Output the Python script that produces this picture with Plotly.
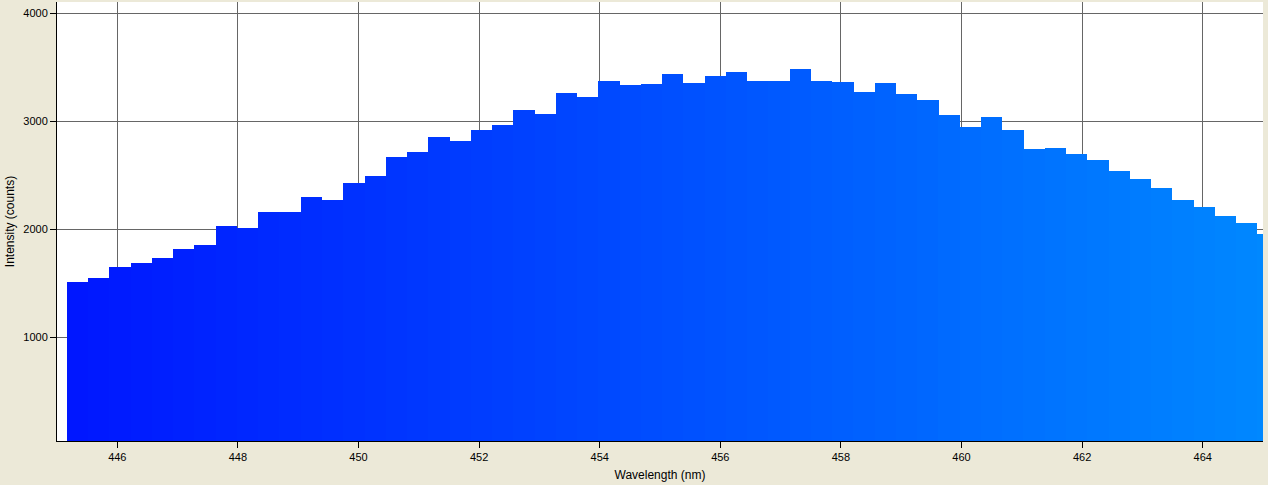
import plotly.graph_objects as go

# Bar centre wavelengths (nm)
wavelength = [
    445.342, 445.695, 446.047, 446.400, 446.752, 447.105, 447.457, 447.810,
    448.162, 448.515, 448.867, 449.220, 449.572, 449.925, 450.277, 450.630,
    450.982, 451.335, 451.687, 452.040, 452.392, 452.745, 453.097, 453.450,
    453.802, 454.155, 454.507, 454.860, 455.212, 455.565, 455.917, 456.270,
    456.622, 456.975, 457.327, 457.680, 458.032, 458.385, 458.737, 459.090,
    459.442, 459.795, 460.147, 460.500, 460.852, 461.205, 461.557, 461.910,
    462.262, 462.615, 462.967, 463.320, 463.672, 464.025, 464.377, 464.730,
    465.082,
]

# Intensity (counts)
intensity = [
    1512, 1549, 1651, 1688, 1734, 1817, 1854, 2031,
    2009, 2160, 2160, 2299, 2271, 2429, 2494, 2669,
    2716, 2855, 2818, 2920, 2966, 3105, 3068, 3262,
    3224, 3373, 3336, 3345, 3438, 3355, 3420, 3456,
    3373, 3373, 3484, 3373, 3364, 3271, 3355, 3253,
    3197, 3058, 2947, 3040, 2920, 2744, 2753, 2697,
    2642, 2540, 2466, 2383, 2271, 2207, 2123, 2058,
    1956,
]

x_ticks = [446, 448, 450, 452, 454, 456, 458, 460, 462, 464]
y_ticks = [1000, 2000, 3000, 4000]

fig = go.Figure(
    go.Bar(
        x=wavelength,
        y=intensity,
        width=0.3545,
        marker=dict(
            color=wavelength,
            colorscale=[[0, "rgb(0,22,255)"], [0.5, "rgb(0,78,255)"], [1, "rgb(0,136,255)"]],
            cmin=445.166,
            cmax=465.0,
            line=dict(width=0),
        ),
        hoverinfo="x+y",
    )
)

axis_font = dict(family="Liberation Sans, Arial, sans-serif", size=11, color="black")
title_font = dict(family="Liberation Sans, Arial, sans-serif", size=12, color="black")

fig.update_layout(
    width=1268,
    height=485,
    margin=dict(l=57, r=5, t=2, b=44),
    paper_bgcolor="#ECE9D8",
    plot_bgcolor="white",
    bargap=0,
    showlegend=False,
    xaxis=dict(
        range=[445, 465],
        tickvals=x_ticks,
        ticktext=[str(v) for v in x_ticks],
        ticks="outside",
        ticklen=6,
        tickcolor="black",
        showline=True,
        linecolor="black",
        linewidth=1,
        showgrid=True,
        gridcolor="#666666",
        gridwidth=1,
        zeroline=False,
        tickfont=axis_font,
        title=dict(text="Wavelength (nm)", font=title_font, standoff=8),
    ),
    yaxis=dict(
        range=[40, 4105],
        tickvals=y_ticks,
        ticktext=[str(v) for v in y_ticks],
        ticks="outside",
        ticklen=6,
        tickcolor="black",
        showline=True,
        linecolor="black",
        linewidth=1,
        showgrid=True,
        gridcolor="#666666",
        gridwidth=1,
        zeroline=False,
        tickfont=axis_font,
        title=dict(text="Intensity (counts)", font=title_font, standoff=6),
    ),
)

fig.write_html(
    "out.html",
    config={"displayModeBar": False},
    post_script="document.body.style.margin='0';document.body.style.background='#ECE9D8';",
)
